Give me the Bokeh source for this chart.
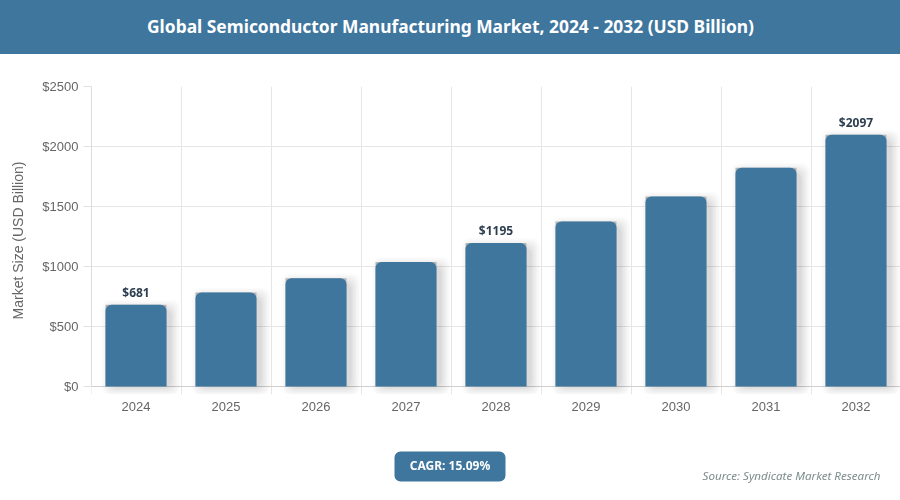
from bokeh.core.properties import value
from bokeh.embed import file_html
from bokeh.layouts import column
from bokeh.models import ColumnDataSource, FixedTicker, Range1d, Span
from bokeh.plotting import figure
from bokeh.resources import INLINE
from bokeh.transform import dodge

# Data
years = ["2024", "2025", "2026", "2027", "2028", "2029", "2030", "2031", "2032"]
market_size = [681, 784, 902, 1038, 1195, 1375, 1583, 1822, 2097]
labelled_years = ["2024", "2028", "2032"]
y_ticks = [0, 500, 1000, 1500, 2000, 2500]
title_text = "Global Semiconductor Manufacturing Market, 2024 - 2032 (USD Billion)"
cagr_text = "CAGR: 15.09%"
source_text = "Source: Syndicate Market Research"
y_title = "Market Size (USD Billion)"

BLUE = "#3e769e"
W = 900
HEAD_H, MAIN_H, FOOT_H = 54, 376, 70
LEFT, TOP, BOTTOM = 91, 32, 36
PX_X = 1 / 90
PX_Y = 2500 / 300
NUDGE = 0.5 * PX_X

centers = [i + 0.5 for i in range(len(years))]
src = ColumnDataSource(dict(x=centers, top=market_size))
lab = [i for i, y in enumerate(years) if y in labelled_years]
lab_src = ColumnDataSource(dict(x=[centers[i] for i in lab], y=[market_size[i] for i in lab],
                                text=[f"${market_size[i]}" for i in lab]))


def strip(height):
    # The column aligns plot frames, so strips keep the main chart's left border and map canvas x directly.
    f = figure(width=W, height=height, output_backend="svg", toolbar_location=None,
               x_range=Range1d(LEFT, W), y_range=Range1d(height, 0), x_axis_type=None, y_axis_type=None,
               min_border=0, min_border_left=LEFT, min_border_right=0, min_border_top=0, min_border_bottom=0)
    f.grid.visible = False
    f.outline_line_color = None
    return f


# Header
head = strip(HEAD_H)
head.background_fill_color = BLUE
head.border_fill_color = BLUE
head.outline_line_color = BLUE
head.outline_line_width = 2
head.styles = {"background-color": BLUE}
head.text(x=[W / 2], y=[HEAD_H / 2 - 1.5], text=[title_text], text_align="center", text_baseline="middle",
          text_font=value("Noto Sans"), text_font_style="bold", text_font_size="17.4px", text_color="white")

# Main chart
p = figure(width=W, height=MAIN_H, output_backend="svg", toolbar_location=None,
           x_range=Range1d(NUDGE, (W - LEFT) * PX_X + NUDGE), y_range=Range1d(-8 * PX_Y, 2500),
           min_border_left=LEFT, min_border_right=0, min_border_top=TOP, min_border_bottom=BOTTOM)
p.outline_line_color = None

xa = p.xaxis[0]
xa.ticker = FixedTicker(ticks=centers)
xa.major_label_overrides = {c: y for c, y in zip(centers, years)}
xa.major_tick_line_color = None
xa.minor_tick_line_color = None
xa.axis_line_color = None
xa.major_label_text_font = "Liberation Sans"
xa.major_label_text_font_size = "13px"
xa.major_label_text_color = "#666666"
xa.major_label_standoff = 1

ya = p.yaxis[0]
ya.ticker = FixedTicker(ticks=y_ticks)
ya.major_label_overrides = {t: f"${t}" for t in y_ticks}
ya.bounds = (0, 2500)
ya.axis_line_color = "#dcdcdc"
ya.major_tick_line_color = "#e2e2e2"
ya.major_tick_in = 0
ya.major_tick_out = 8
ya.minor_tick_line_color = None
ya.major_label_text_font = "Liberation Sans"
ya.major_label_text_font_size = "13px"
ya.major_label_text_color = "#666666"
ya.major_label_standoff = 5
ya.axis_label = y_title
ya.axis_label_text_font = "Liberation Sans"
ya.axis_label_text_font_style = "normal"
ya.axis_label_text_font_size = "14px"
ya.axis_label_text_color = "#666666"
ya.axis_label_standoff = 13

p.xgrid.ticker = FixedTicker(ticks=list(range(len(years) + 1)))
p.xgrid.grid_line_color = "#e6e6e6"
p.ygrid.grid_line_color = "#e6e6e6"
p.add_layout(Span(location=0, dimension="width", line_color="#cfcfcf", line_width=1, level="underlay"))

# Soft shadow: stacked translucent bars
for grow, alpha in [(18, 0.012), (15, 0.015), (12, 0.018), (9, 0.02), (6, 0.022), (3, 0.025), (0, 0.03)]:
    p.vbar(x=dodge("x", 5 * PX_X, range=p.x_range), top=dodge("top", (-4 + grow / 2) * PX_Y, range=p.y_range),
           bottom=-(1 + grow / 2) * PX_Y, width=(61 + grow) * PX_X,
           source=src, fill_color="#000000", fill_alpha=alpha, line_color=None,
           border_radius=(8, 8, 8, 8))

# Grey square corners behind the rounded bars
p.vbar(x="x", top="top", bottom=0, width=61 * PX_X, source=src, fill_color="#b5b5b5", line_color=None)
p.vbar(x="x", top="top", bottom=0, width=61 * PX_X, source=src, fill_color=BLUE, line_color=None,
       border_radius=(6, 6, 0, 0))

p.text(x="x", y="y", text="text", source=lab_src, y_offset=-4, text_align="center", text_baseline="bottom",
       text_font=value("Noto Sans"), text_font_style="bold", text_font_size="12px", text_color="#2c3e50")

# Footer
foot = strip(FOOT_H)
foot.quad(left=[394], right=[505], top=[21], bottom=[51], fill_color=BLUE, line_color=None, border_radius=6)
foot.text(x=[449.5], y=[35], text=[cagr_text], text_align="center", text_baseline="middle",
          text_font=value("Noto Sans"), text_font_style="bold", text_font_size="12px", text_color="white")
foot.text(x=[880], y=[45], text=[source_text], text_align="right", text_baseline="middle",
          text_font=value("Noto Sans"), text_font_style="italic", text_font_size="11.6px", text_color="#7f8c8d")

page = column(head, p, foot, spacing=0)
page.styles = {"position": "fixed", "left": "0px", "top": "0px"}

open("out.html", "w").write(file_html(page, INLINE))
